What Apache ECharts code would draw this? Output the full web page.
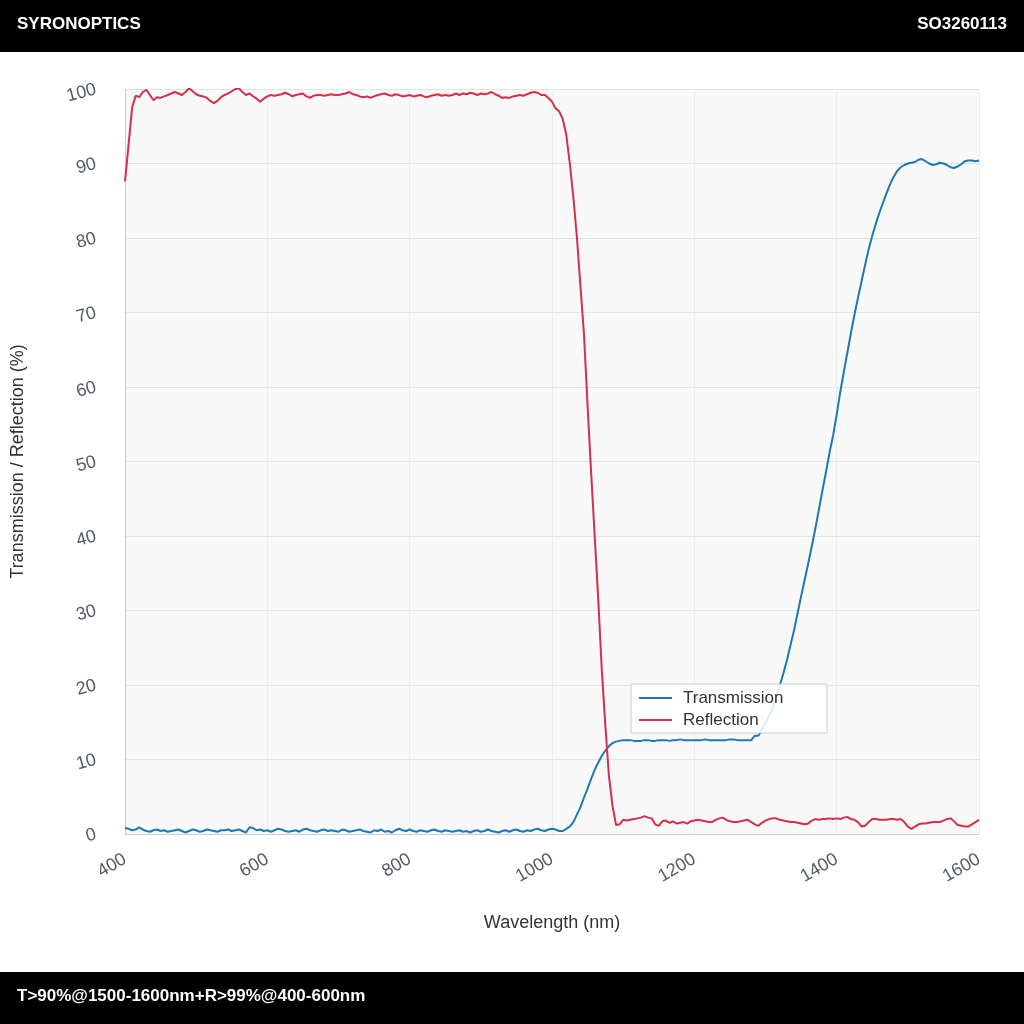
<!DOCTYPE html>
<html>
<head>
<meta charset="utf-8">
<script src="https://cdn.jsdelivr.net/npm/echarts@6/dist/echarts.min.js"></script>
<style>
html,body{margin:0;padding:0;background:#fff;}
#chart{width:1024px;height:1024px;}
</style>
</head>
<body>
<div id="chart"></div>
<script>
// Wavelength grid (nm), 5 nm steps from 400 to 1600
const wavelengthStart = 400;
const wavelengthStep = 5;

const transmission = [
0.8,0.7,0.5,0.6,0.9,0.6,0.4,0.3,0.5,0.6,0.4,0.5,0.3,0.4,0.5,0.6,0.4,0.2,0.4,0.6,
0.5,0.3,0.4,0.6,0.5,0.4,0.3,0.5,0.5,0.6,0.4,0.5,0.6,0.4,0.2,0.9,0.8,0.5,0.6,0.4,
0.5,0.3,0.5,0.7,0.6,0.4,0.3,0.4,0.5,0.3,0.6,0.7,0.5,0.4,0.3,0.5,0.6,0.4,0.5,0.4,
0.3,0.6,0.5,0.3,0.4,0.5,0.6,0.4,0.3,0.2,0.5,0.4,0.6,0.3,0.4,0.2,0.5,0.7,0.5,0.4,
0.6,0.4,0.3,0.5,0.4,0.3,0.5,0.6,0.4,0.3,0.5,0.4,0.3,0.4,0.5,0.3,0.4,0.2,0.4,0.5,
0.3,0.4,0.6,0.4,0.3,0.2,0.4,0.5,0.3,0.5,0.6,0.4,0.3,0.5,0.4,0.6,0.7,0.5,0.4,0.6,
0.7,0.6,0.4,0.4,0.7,1.0,1.6,2.6,3.6,4.9,6.1,7.4,8.6,9.6,10.5,11.2,11.8,12.2,12.4,12.5,
12.6,12.6,12.6,12.5,12.5,12.5,12.6,12.6,12.5,12.5,12.6,12.6,12.6,12.5,12.6,12.6,12.7,12.6,12.6,12.6,
12.6,12.6,12.6,12.7,12.6,12.6,12.6,12.6,12.6,12.6,12.7,12.7,12.6,12.6,12.6,12.6,12.6,13.2,13.2,14.0,
14.9,15.9,16.9,18.3,19.9,21.5,23.3,25.3,27.3,29.6,31.9,34.1,36.3,38.6,41.0,43.5,46.1,48.6,51.2,53.5,
56.3,59.3,62.0,64.6,67.2,69.7,72.0,74.2,76.4,78.5,80.3,81.9,83.4,84.7,86.0,87.2,88.2,89.0,89.5,89.8,
90.0,90.1,90.2,90.5,90.6,90.3,90.0,89.8,89.9,90.1,90.0,89.8,89.5,89.4,89.6,89.9,90.3,90.4,90.4,90.3,
90.4
];

const reflection = [
87.6,92.5,97.5,99.1,98.9,99.6,99.9,99.2,98.5,98.9,98.8,99.0,99.2,99.4,99.6,99.4,99.2,99.6,100.1,99.7,
99.3,99.1,99.0,98.8,98.4,98.1,98.4,98.9,99.2,99.4,99.7,100.0,100.1,99.6,99.2,99.4,99.0,98.7,98.3,98.7,
99.0,99.2,99.1,99.2,99.3,99.5,99.3,99.0,99.2,99.3,99.4,99.0,98.8,99.1,99.2,99.2,99.1,99.2,99.3,99.2,
99.2,99.3,99.4,99.6,99.3,99.2,99.0,98.9,99.0,98.8,99.0,99.2,99.3,99.4,99.2,99.1,99.3,99.2,99.0,99.1,
99.2,99.0,99.1,99.2,99.0,98.9,99.1,99.2,99.3,99.1,99.2,99.1,99.2,99.4,99.2,99.4,99.3,99.5,99.4,99.2,
99.4,99.3,99.4,99.6,99.3,99.1,98.8,98.9,98.8,99.0,99.1,99.2,99.1,99.3,99.5,99.6,99.5,99.2,99.2,98.8,
98.3,97.4,97.0,96.0,93.9,90.0,85.5,80.1,73.5,67.0,57.5,48.5,40.0,31.5,22.0,14.5,7.8,3.8,1.2,1.3,
1.9,1.8,1.9,2.0,2.1,2.2,2.4,2.2,2.1,1.3,1.1,1.7,1.8,1.5,1.7,1.4,1.5,1.6,1.4,1.7,
1.8,1.9,1.8,1.7,1.6,1.6,1.9,2.1,2.2,1.9,1.7,1.6,1.6,1.7,1.8,1.9,1.6,1.3,1.1,1.5,
1.8,2.0,2.1,2.1,1.9,1.8,1.7,1.6,1.6,1.5,1.4,1.3,1.4,1.8,2.0,1.9,2.0,2.0,2.1,2.0,
2.1,2.0,2.2,2.3,2.0,1.9,1.6,1.0,1.1,1.6,2.0,2.0,1.9,1.9,1.9,2.0,2.0,1.9,2.0,1.6,
1.0,0.7,1.0,1.3,1.4,1.4,1.5,1.6,1.6,1.6,1.8,2.0,2.1,1.7,1.2,1.1,1.0,1.0,1.3,1.6,
1.9
];

const xTicks = [400, 600, 800, 1000, 1200, 1400, 1600];
const yTicks = [0, 10, 20, 30, 40, 50, 60, 70, 80, 90, 100];

const headerLeft = 'SYRONOPTICS';
const headerRight = 'SO3260113';
const footerText = 'T>90%@1500-1600nm+R>99%@400-600nm';

const wavelengths = transmission.map((_, i) => wavelengthStart + i * wavelengthStep);
const tData = wavelengths.map((w, i) => [w, transmission[i]]);
const rData = wavelengths.map((w, i) => [w, reflection[i]]);

const FONT = '"Liberation Sans", Arial, Helvetica, sans-serif';
const chart = echarts.init(document.getElementById('chart'), null, {renderer: 'canvas'});

chart.setOption({
  animation: false,
  backgroundColor: '#ffffff',
  textStyle: {fontFamily: FONT},
  graphic: [
    {type: 'rect', left: 0, top: 0, shape: {width: 1024, height: 52}, style: {fill: '#000'}, z: 0},
    {type: 'rect', left: 0, top: 972, shape: {width: 1024, height: 52}, style: {fill: '#000'}, z: 0},
    {type: 'text', left: 17, top: 16, style: {text: headerLeft, fill: '#fff', font: 'bold 17px ' + FONT}, z: 1},
    {type: 'text', right: 17, top: 16, style: {text: headerRight, fill: '#fff', font: 'bold 17px ' + FONT}, z: 1},
    {type: 'text', left: 17, top: 988, style: {text: footerText, fill: '#fff', font: 'bold 17px ' + FONT}, z: 1}
  ],
  grid: {
    left: 125, right: 45, top: 89, bottom: 190,
    show: true, backgroundColor: '#f9f9f9', borderWidth: 0
  },
  legend: {
    orient: 'vertical',
    left: 631, top: 684,
    padding: [5, 8, 4, 8],
    itemGap: 4,
    itemWidth: 33,
    itemHeight: 18,
    icon: 'path://M0,0 L33,0 L33,2 L0,2 Z',
    backgroundColor: 'rgba(255,255,255,0.85)',
    borderColor: '#cccccc',
    borderWidth: 1,
    borderRadius: 0,
    textStyle: {fontSize: 17, color: '#333', fontFamily: FONT, lineHeight: 18, width: 136, padding: [0, 0, 0, 6]},
    data: ['Transmission', 'Reflection']
  },
  xAxis: {
    type: 'value',
    min: xTicks[0], max: xTicks[xTicks.length - 1], interval: 200,
    name: 'Wavelength (nm)', nameLocation: 'middle', nameGap: 80,
    nameTextStyle: {fontSize: 18, color: '#333', fontFamily: FONT},
    axisLine: {show: true, lineStyle: {color: '#c7ccd3', width: 1}},
    axisTick: {show: false},
    axisLabel: {rotate: 30, fontSize: 18, color: '#535b68', margin: 24, fontFamily: FONT,
      formatter: v => String(v)},
    splitLine: {show: true, lineStyle: {color: '#ececec', width: 1}}
  },
  yAxis: {
    type: 'value',
    min: yTicks[0], max: yTicks[yTicks.length - 1], interval: 10,
    name: 'Transmission / Reflection (%)', nameLocation: 'middle', nameGap: 98,
    nameTextStyle: {fontSize: 18, color: '#333', fontFamily: FONT},
    axisLine: {show: true, lineStyle: {color: '#c7ccd3', width: 1}},
    axisTick: {show: false},
    axisLabel: {rotate: 15, fontSize: 18, color: '#535b68', margin: 29, fontFamily: FONT,
      formatter: v => String(v)},
    splitLine: {show: true, lineStyle: {color: '#e3e3e3', width: 1}}
  },
  series: [
    {name: 'Transmission', type: 'line', data: tData, symbol: 'none', showSymbol: false,
     lineStyle: {color: '#1f77b4', width: 2}, itemStyle: {color: '#1f77b4'}, z: 3},
    {name: 'Reflection', type: 'line', data: rData, symbol: 'none', showSymbol: false,
     lineStyle: {color: '#d62f47', width: 2}, itemStyle: {color: '#d62f47'}, z: 3}
  ]
});
</script>
</body>
</html>
